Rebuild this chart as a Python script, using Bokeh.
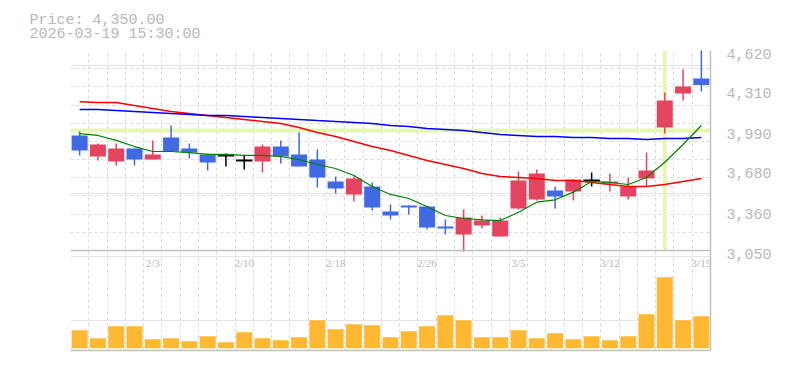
from bokeh.plotting import figure
from bokeh.models import (Range1d, LinearAxis, FixedTicker, Span, Title, LabelSet,
                          ColumnDataSource, NumeralTickFormatter, Grid)
from bokeh.embed import file_html
from bokeh.resources import INLINE

# ---------------- data ----------------
dates = ["1/28", "1/29", "1/30", "2/2", "2/3", "2/4", "2/5", "2/6", "2/9", "2/10",
         "2/12", "2/13", "2/16", "2/17", "2/18", "2/19", "2/20", "2/24", "2/25", "2/26",
         "2/27", "3/2", "3/3", "3/4", "3/5", "3/6", "3/9", "3/10", "3/11", "3/12",
         "3/13", "3/16", "3/17", "3/18", "3/19"]
opens = [3953, 3788, 3749, 3851, 3764, 3937, 3851, 3804, 3796, 3756,
         3749, 3866, 3804, 3764, 3592, 3490, 3552, 3356, 3403, 3395,
         3238, 3176, 3246, 3160, 3380, 3450, 3521, 3513, 3600, 3576,
         3474, 3615, 4016, 4283, 4400]
highs = [3984, 3890, 3890, 3851, 3913, 4031, 3890, 3811, 3811, 3796,
         3882, 3913, 3976, 3843, 3631, 3631, 3584, 3411, 3403, 3395,
         3293, 3372, 3325, 3309, 3670, 3686, 3552, 3607, 3662, 3654,
         3623, 3819, 4290, 4471, 4640]
lows = [3796, 3756, 3717, 3717, 3764, 3827, 3772, 3678, 3709, 3686,
        3662, 3733, 3709, 3545, 3498, 3435, 3364, 3293, 3333, 3215,
        3176, 3040, 3223, 3160, 3372, 3443, 3380, 3443, 3552, 3513,
        3450, 3552, 3969, 4228, 4298]
closes = [3835, 3882, 3851, 3764, 3804, 3827, 3819, 3741, 3796, 3756,
          3866, 3788, 3709, 3623, 3537, 3615, 3388, 3325, 3388, 3231,
          3223, 3309, 3286, 3286, 3600, 3654, 3474, 3607, 3600, 3592,
          3552, 3678, 4228, 4337, 4350]
ma_short = [3968, 3953, 3914, 3866, 3827, 3827, 3819, 3804, 3804, 3796,
            3796, 3788, 3764, 3725, 3694, 3639, 3552, 3490, 3458, 3395,
            3325, 3301, 3290, 3285, 3350, 3429, 3448, 3508, 3592, 3584,
            3568, 3623, 3743, 3882, 4031]
ma_mid = [4217, 4212, 4212, 4188, 4165, 4141, 4125, 4110, 4094, 4078,
          4063, 4047, 4015, 3976, 3945, 3906, 3866, 3835, 3796, 3756,
          3725, 3694, 3654, 3631, 3623, 3615, 3600, 3600, 3584, 3568,
          3552, 3552, 3568, 3592, 3615]
ma_long = [4157, 4157, 4149, 4141, 4133, 4125, 4118, 4110, 4110, 4102,
           4094, 4086, 4078, 4070, 4063, 4055, 4047, 4031, 4023, 4008,
           4000, 3992, 3976, 3961, 3953, 3945, 3945, 3937, 3937, 3929,
           3929, 3921, 3929, 3929, 3937]
volumes = [180000, 100000, 220000, 220000, 90000, 100000, 70000, 120000, 60000, 160000,
           100000, 80000, 110000, 280000, 190000, 240000, 230000, 110000, 170000, 220000,
           330000, 280000, 110000, 110000, 180000, 100000, 150000, 90000, 120000, 80000,
           120000, 340000, 710000, 280000, 320000]
price_ticks = [3050, 3360, 3680, 3990, 4310, 4620]
date_label_idx = [4, 9, 14, 19, 24, 29, 34]
header_price = "Price: 4,350.00"
header_time = "2026-03-19 15:30:00"
cross_idx = 32
cross_price = 3992

# ---------------- styles ----------------
UP = "#e3445f"
DOWN = "#4169e1"
DOJI = "#000000"
VOL = "#ffb833"
GRID = "#d9d9d9"
FRAME = "#c0c0c0"
TEXT = "#b8b8b8"
CROSS = "#e8f6b4"
FONT = "Liberation Mono"

FRAME_W, FRAME_H = 640, 300          # price panel: upper 200px, volume: lower 100px
n = len(dates)
idx = list(range(n))
price_lo, price_hi = price_ticks[0], price_ticks[-1]
price_span = price_hi - price_lo
y_start = price_lo - price_span / 2.0
px_per_price = 200.0 / price_span
label_shift = 3.0 / px_per_price             # labels sit 3px below their level

p = figure(width=777, height=358,
           x_range=Range1d(-0.5, n - 0.5),
           y_range=Range1d(y_start, price_hi),
           output_backend="svg", toolbar_location=None,
           y_axis_location=None,
           min_border_left=70, min_border_right=67,
           min_border_top=50, min_border_bottom=8,
           outline_line_color=None,
           background_fill_color="white", border_fill_color="white")

p.extra_y_ranges = {
    "vol": Range1d(-23000, 2977000),
    "lab": Range1d(y_start + label_shift, price_hi + label_shift),
}

# two-line header
p.add_layout(Title(text=header_price + "\n" + header_time, align="left", offset=-41,
                   standoff=14, text_line_height=0.88,
                   text_font=FONT, text_font_size="15px", text_font_style="normal",
                   text_color=TEXT), "above")

# bottom axis: line only
xa = p.xaxis[0]
xa.ticker = FixedTicker(ticks=[])
xa.major_label_text_font_size = "0px"
xa.major_tick_line_color = None
xa.minor_tick_line_color = None
xa.major_label_standoff = 0
xa.axis_line_color = FRAME
xa.axis_line_width = 1.5

# right price axis
ya = LinearAxis(y_range_name="lab", ticker=FixedTicker(ticks=price_ticks),
                formatter=NumeralTickFormatter(format="0,0"))
ya.major_label_text_font = FONT
ya.major_label_text_font_size = "15px"
ya.major_label_text_color = TEXT
ya.major_tick_line_color = None
ya.minor_tick_line_color = None
ya.major_label_standoff = 10
ya.axis_line_color = FRAME
ya.axis_line_width = 1.5
p.add_layout(ya, "right")

# grids
p.xgrid.ticker = FixedTicker(ticks=[i - 0.5 for i in range(n + 1)])
p.xgrid.grid_line_color = GRID
p.xgrid.grid_line_dash = "3 3"
p.xgrid.grid_line_width = 1
grid_levels = [price_lo + k * price_span / 11.0 for k in range(1, 12)]
yg = Grid(dimension=1, ticker=FixedTicker(ticks=grid_levels),
          grid_line_color=GRID, grid_line_dash="3 3", grid_line_width=1)
p.add_layout(yg)

# separator between price and volume panels
p.add_layout(Span(location=price_lo, dimension="width", line_color=FRAME,
                  line_width=1.5))

# crosshair
p.add_layout(Span(location=cross_price, dimension="width", line_color=CROSS,
                  line_width=4, level="underlay"))
p.segment(x0=[cross_idx], x1=[cross_idx], y0=[price_lo], y1=[price_hi],
          line_color=CROSS, line_width=4)

# volume
p.vbar(x=idx, top=volumes, bottom=0, width=0.875, y_range_name="vol",
       fill_color=VOL, line_color=None)

# candles
colors = [UP if c > o else (DOWN if c < o else DOJI) for o, c in zip(opens, closes)]
p.segment(x0=idx, x1=idx, y0=lows, y1=highs, line_color=colors, line_width=1.5)

body = ColumnDataSource(dict(
    x=[i for i in idx if opens[i] != closes[i]],
    top=[max(opens[i], closes[i]) for i in idx if opens[i] != closes[i]],
    bottom=[min(opens[i], closes[i]) for i in idx if opens[i] != closes[i]],
    color=[colors[i] for i in idx if opens[i] != closes[i]],
))
p.vbar(x="x", top="top", bottom="bottom", width=0.875, source=body,
       fill_color="color", line_color=None)

doji = [i for i in idx if opens[i] == closes[i]]
p.segment(x0=[i - 0.45 for i in doji], x1=[i + 0.45 for i in doji],
          y0=[opens[i] for i in doji], y1=[opens[i] for i in doji],
          line_color=DOJI, line_width=2)

# moving averages
p.line(idx, ma_mid, line_color="#ff0000", line_width=1.5)
p.line(idx, ma_long, line_color="#0000ff", line_width=1.5)
p.line(idx, ma_short, line_color="#008000", line_width=1.2)

# date labels inside the volume panel
lab_src = ColumnDataSource(dict(
    x=date_label_idx,
    y=[price_lo] * len(date_label_idx),
    text=[dates[i] for i in date_label_idx],
))
p.add_layout(LabelSet(x="x", y="y", text="text", source=lab_src,
                      y_offset=-12, text_align="center", text_baseline="middle",
                      text_font=FONT, text_font_size="11px", text_color=TEXT))

open("out.html", "w").write(file_html(p, INLINE))
